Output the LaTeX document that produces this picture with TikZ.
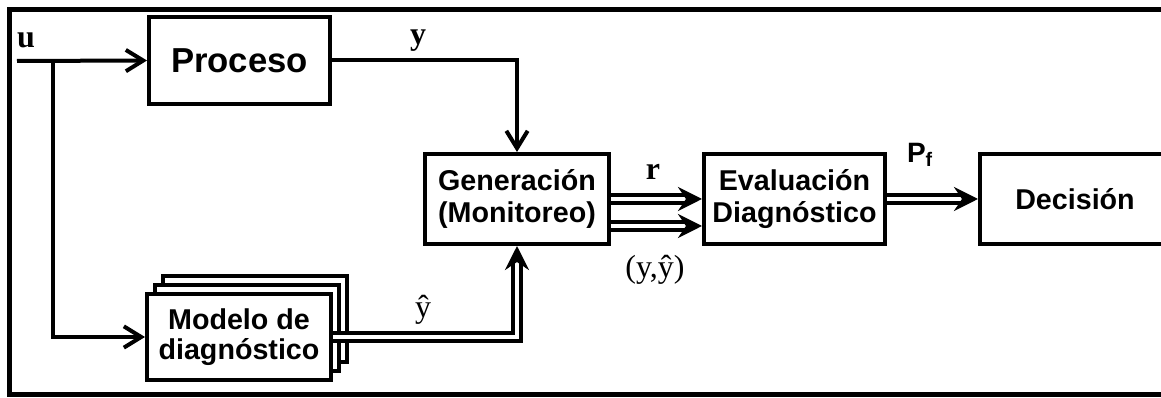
\documentclass[tikz,border=0pt]{standalone}
\usepackage{fontspec}
\setmainfont{Liberation Serif}
\setsansfont{Liberation Sans}
\usetikzlibrary{arrows.meta}
\begin{document}
\begin{tikzpicture}[x=0.75pt,y=-0.75pt,
  box/.style={draw,line width=3pt,fill=white,inner sep=0pt,align=center,
    font=\sffamily\bfseries\fontsize{21.5}{24.5}\selectfont},
  wire/.style={line width=3pt},
  sarrow/.style={wire,-{Straight Barb[length=13pt,width=16pt]}},
  dbl/.style={line width=2.7pt,double=white,double distance=3pt,
    -{Stealth[length=18pt,width=18pt,inset=6pt]}},
  lbl/.style={font=\bfseries\fontsize{24}{28}\selectfont,inner sep=0pt},
  lblr/.style={font=\fontsize{24}{28}\selectfont,inner sep=0pt},
  lblsf/.style={font=\sffamily\bfseries\fontsize{21}{24}\selectfont,inner sep=0pt}]
\useasboundingbox (0,0) rectangle (1161,398);
\clip (0,0) rectangle (1161,398);
\fill[white] (0,0) rectangle (1161,398);
% frame
\draw[line width=3.75pt] (1170,10) -- (9,10) -- (9,395) -- (1170,395);
% boxes
\node[box,minimum width=135.75pt,minimum height=65.25pt,
  font=\sffamily\bfseries\fontsize{26}{30}\selectfont] (proc) at (239.5,60.5) {Proceso};
\node[box,minimum width=138pt,minimum height=67.5pt] (gen) at (517,199) {Generación\\(Monitoreo)};
\node[box,minimum width=135.75pt,minimum height=67.5pt] (eval) at (794.5,199) {Evaluación\\Diagnóstico};
\node[box,minimum width=142.5pt,minimum height=67.5pt] (dec) at (1075,199) {Decisión};
\node[box,minimum width=138pt,minimum height=64.5pt] (modelc) at (255,319) {};
\node[box,minimum width=138pt,minimum height=64.5pt] (modelb) at (247,328) {};
\node[box,minimum width=138pt,minimum height=64.5pt,
  font=\sffamily\bfseries\fontsize{21.5}{22}\selectfont] (model) at (239,337) {Modelo de\\diagnóstico};
% connectors
\coordinate (uin) at (17,61);
\coordinate (split) at (53,61);
\draw[sarrow] (uin) -- (proc.west);
\draw[sarrow] (split) |- (model.west);
\draw[sarrow] (proc.east) -| (gen.north);
\draw[dbl] (model.east) -| (gen.south);
\draw[dbl] (gen.east) -- (eval.west);
\draw[dbl] ([yshift=-20.25pt]gen.east) -- ([yshift=-20.25pt]eval.west);
\draw[dbl] (eval.east) -- (dec.west);
% labels
\node[lbl] (lu) at (26,40) {u};
\node[lbl] (ly) at (418,41) {y};
\node[lbl] (lr) at (653,172) {r};
\node[lblr] (lyy) at (655,270) {(y,ŷ)};
\node[lblr] (lyh) at (423,310) {ŷ};
\node[lblsf] (lpf) at (920,155) {P\textsubscript{f}};
\end{tikzpicture}
\end{document}
